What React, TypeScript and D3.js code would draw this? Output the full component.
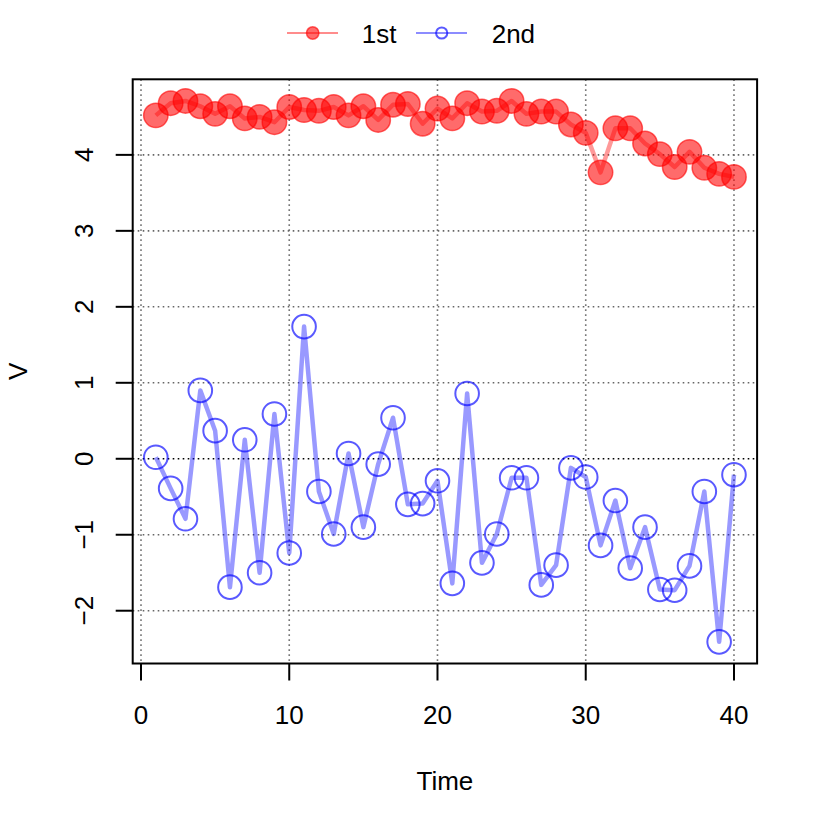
import React from "react";
import * as d3 from "d3";

const times: number[] = Array.from({ length: 40 }, (_, i) => i + 1);
const first: number[] = [
  4.52, 4.68, 4.71, 4.64, 4.54, 4.64, 4.48, 4.5, 4.43, 4.63,
  4.59, 4.58, 4.63, 4.52, 4.64, 4.46, 4.66, 4.67, 4.41, 4.61,
  4.48, 4.68, 4.57, 4.58, 4.71, 4.54, 4.57, 4.57, 4.4, 4.29,
  3.77, 4.35, 4.35, 4.15, 4.01, 3.84, 4.04, 3.83, 3.75, 3.71,
];
const second: number[] = [
  0.02, -0.39, -0.79, 0.9, 0.37, -1.69, 0.25, -1.5, 0.59, -1.24,
  1.74, -0.43, -0.99, 0.07, -0.9, -0.07, 0.54, -0.6, -0.59, -0.29,
  -1.64, 0.86, -1.37, -0.99, -0.25, -0.25, -1.66, -1.4, -0.12, -0.24,
  -1.14, -0.55, -1.44, -0.9, -1.72, -1.73, -1.41, -0.43, -2.41, -0.21,
];
const xTicks: number[] = [0, 10, 20, 30, 40];
const yTicks: number[] = [-2, -1, 0, 1, 2, 3, 4];
const seriesNames: string[] = ["1st", "2nd"];

const FONT = "'Liberation Sans', Arial, Helvetica, sans-serif";
const fmt = (v: number) => (v < 0 ? "\u2212" + Math.abs(v) : String(v));

export default function App() {
  const L = 132.7, R = 757.1, T = 79.3, B = 663.5;
  const xr = [1, 40];
  const xPad = (xr[1] - xr[0]) * 0.04;
  const x = d3.scaleLinear().domain([xr[0] - xPad, xr[1] + xPad]).range([L, R]);
  const all = first.concat(second);
  const [ymin, ymax] = d3.extent(all) as [number, number];
  const yPad = (ymax - ymin) * 0.04;
  const y = d3.scaleLinear().domain([ymin - yPad, ymax + yPad]).range([B, T]);

  const line = d3
    .line<number>()
    .x((_, i) => x(times[i]))
    .y((d) => y(d));

  return (
    <svg
      width={830}
      height={830}
      style={{ position: "absolute", left: 0, top: 0, background: "#fff" }}
      fontFamily={FONT}
    >
      <rect x={0} y={0} width={830} height={830} fill="#fff" />
      {xTicks.map((t) => (
        <line
          key={"gx" + t}
          x1={x(t)}
          x2={x(t)}
          y1={T}
          y2={B}
          stroke="#777"
          strokeWidth={1.6}
          strokeDasharray="1.6 3.4"
        />
      ))}
      {yTicks.map((t) => (
        <line
          key={"gy" + t}
          x1={L}
          x2={R}
          y1={y(t)}
          y2={y(t)}
          stroke={t === 0 ? "#000" : "#666"}
          strokeWidth={1.6}
          strokeDasharray="1.6 3.4"
        />
      ))}
      <path d={line(first) || ""} fill="none" stroke="rgba(255,0,0,0.4)" strokeWidth={4.5} strokeLinejoin="round" />
      {first.map((v, i) => (
        <circle
          key={"p1" + i}
          cx={x(times[i])}
          cy={y(v)}
          r={12.2}
          fill="rgba(255,0,0,0.58)"
          stroke="rgba(255,0,0,0.6)"
          strokeWidth={1.5}
        />
      ))}
      <path d={line(second) || ""} fill="none" stroke="rgba(0,0,255,0.4)" strokeWidth={4.5} strokeLinejoin="round" />
      {second.map((v, i) => (
        <circle
          key={"p2" + i}
          cx={x(times[i])}
          cy={y(v)}
          r={11.8}
          fill="none"
          stroke="rgba(0,0,255,0.65)"
          strokeWidth={2}
        />
      ))}
      <rect x={L} y={T} width={R - L} height={B - T} fill="none" stroke="#000" strokeWidth={2} />
      {xTicks.map((t) => (
        <g key={"xt" + t}>
          <line x1={x(t)} x2={x(t)} y1={B} y2={B + 17} stroke="#000" strokeWidth={2} />
          <text x={x(t)} y={723.5} fontSize={26} textAnchor="middle" fill="#000">
            {fmt(t)}
          </text>
        </g>
      ))}
      {yTicks.map((t) => (
        <g key={"yt" + t}>
          <line x1={L} x2={L - 17} y1={y(t)} y2={y(t)} stroke="#000" strokeWidth={2} />
          <text
            transform={`translate(93,${y(t)}) rotate(-90)`}
            fontSize={26}
            textAnchor="middle"
            fill="#000"
          >
            {fmt(t)}
          </text>
        </g>
      ))}
      <text x={(L + R) / 2} y={790} fontSize={26} textAnchor="middle" fill="#000">
        Time
      </text>
      <text
        transform={`translate(27,${(T + B) / 2}) rotate(-90)`}
        fontSize={26}
        textAnchor="middle"
        fill="#000"
      >
        V
      </text>
      <line x1={287} x2={338} y1={33} y2={33} stroke="rgba(255,0,0,0.45)" strokeWidth={2.2} />
      <circle cx={312.7} cy={33} r={6.2} fill="rgba(255,0,0,0.58)" stroke="rgba(255,0,0,0.6)" strokeWidth={1.5} />
      <text x={361.7} y={43.3} fontSize={26} fill="#000">
        {seriesNames[0]}
      </text>
      <line x1={416} x2={467} y1={33} y2={33} stroke="rgba(0,0,255,0.45)" strokeWidth={2.2} />
      <circle cx={441.7} cy={33} r={5.6} fill="none" stroke="rgba(0,0,255,0.65)" strokeWidth={2} />
      <text x={491.7} y={43.3} fontSize={26} fill="#000">
        {seriesNames[1]}
      </text>
    </svg>
  );
}
